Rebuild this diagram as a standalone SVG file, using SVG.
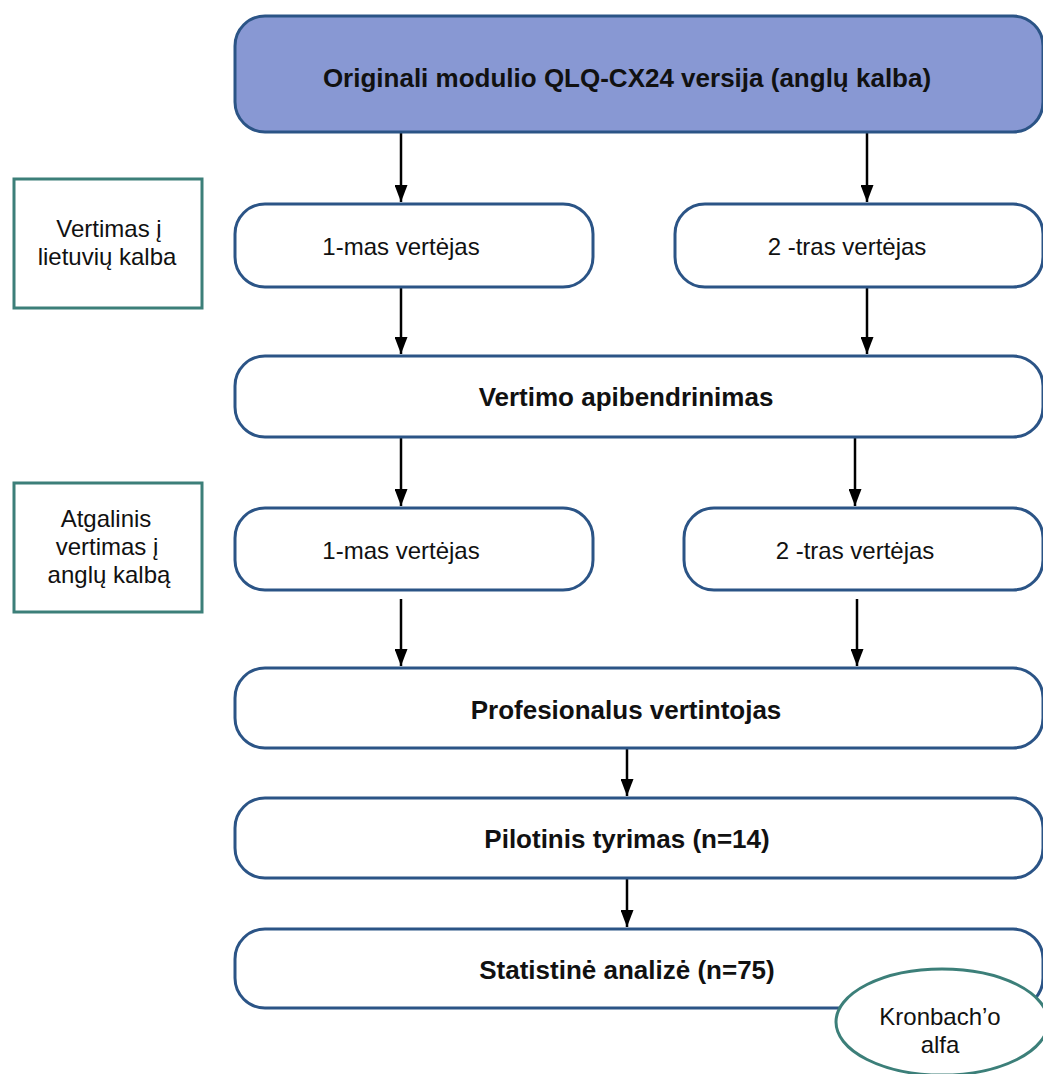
<svg xmlns="http://www.w3.org/2000/svg" width="1043" height="1074" viewBox="0 0 1043 1074">
<defs>
<marker id="ah" viewBox="0 0 17 13" refX="17" refY="6.5" markerWidth="17" markerHeight="13" markerUnits="userSpaceOnUse" orient="auto"><path d="M0,0 L17,6.5 L0,13 z" fill="#000"/></marker>
<style>
.box{fill:#fff;stroke:#2b5486;stroke-width:3}
.top{fill:#8898d3;stroke:#2b5486;stroke-width:3}
.side{fill:#fff;stroke:#3c7f79;stroke-width:3}
.t{font-family:"Liberation Sans",Arial,sans-serif;font-size:24px;fill:#111;text-anchor:middle}
.b{font-weight:bold;font-size:26px}
.c{stroke:#000;stroke-width:2.5;fill:none}
</style>
</defs>
<rect width="1043" height="1074" fill="#fff"/>
<g id="connectors">
<line class="c" x1="401" y1="132" x2="401" y2="202" marker-end="url(#ah)"/>
<line class="c" x1="867" y1="128" x2="867" y2="202" marker-end="url(#ah)"/>
<line class="c" x1="401" y1="288" x2="401" y2="354" marker-end="url(#ah)"/>
<line class="c" x1="867" y1="288" x2="867" y2="354" marker-end="url(#ah)"/>
<line class="c" x1="401" y1="438" x2="401" y2="506" marker-end="url(#ah)"/>
<line class="c" x1="855" y1="438" x2="855" y2="506" marker-end="url(#ah)"/>
<line class="c" x1="401" y1="599" x2="401" y2="666" marker-end="url(#ah)"/>
<line class="c" x1="857" y1="599" x2="857" y2="666" marker-end="url(#ah)"/>
<line class="c" x1="627" y1="749" x2="627" y2="796" marker-end="url(#ah)"/>
<line class="c" x1="627" y1="879" x2="627" y2="927" marker-end="url(#ah)"/>
</g>
<g id="n-orig"><rect class="top" x="235" y="16" width="808" height="116" rx="30"/><text class="t b" x="627" y="87">Originali modulio QLQ-CX24 versija (anglų kalba)</text></g>
<g id="side1"><rect class="side" x="14" y="179" width="188" height="129"/><text class="t" x="109" y="237">Vertimas į</text><text class="t" x="107" y="265">lietuvių kalba</text></g>
<g id="n-v1"><rect class="box" x="235" y="204" width="358" height="83" rx="30"/><text class="t" x="401" y="255">1-mas vertėjas</text></g>
<g id="n-v2"><rect class="box" x="675" y="204" width="368" height="83" rx="30"/><text class="t" x="847" y="255">2 -tras vertėjas</text></g>
<g id="n-apib"><rect class="box" x="235" y="356" width="808" height="81" rx="30"/><text class="t b" x="626" y="406">Vertimo apibendrinimas</text></g>
<g id="side2"><rect class="side" x="14" y="483" width="188" height="129"/><text class="t" x="106" y="527">Atgalinis</text><text class="t" x="107" y="555">vertimas į</text><text class="t" x="109" y="583">anglų kalbą</text></g>
<g id="n-b1"><rect class="box" x="235" y="508" width="358" height="82" rx="30"/><text class="t" x="401" y="559">1-mas vertėjas</text></g>
<g id="n-b2"><rect class="box" x="684" y="508" width="359" height="82" rx="30"/><text class="t" x="855" y="559">2 -tras vertėjas</text></g>
<g id="n-prof"><rect class="box" x="235" y="668" width="808" height="80" rx="30"/><text class="t b" x="626" y="719">Profesionalus vertintojas</text></g>
<g id="n-pilot"><rect class="box" x="235" y="798" width="808" height="80" rx="30"/><text class="t b" x="627" y="848">Pilotinis tyrimas (n=14)</text></g>
<g id="n-stat"><rect class="box" x="235" y="929" width="808" height="79" rx="30"/><text class="t b" x="627" y="979">Statistinė analizė (n=75)</text></g>
<g id="n-kron"><ellipse class="side" cx="942" cy="1022" rx="106" ry="53"/><text class="t" x="940" y="1025">Kronbach’o</text><text class="t" x="940" y="1053">alfa</text></g>
</svg>
